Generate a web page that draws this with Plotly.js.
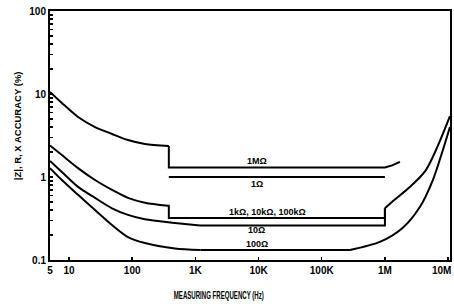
<!DOCTYPE html>
<html><head><meta charset="utf-8">
<script src="https://cdn.plot.ly/plotly-3.0.1.min.js"></script>
<style>html,body{margin:0;padding:0;background:#fff}</style>
</head><body>
<div id="chart" style="width:454px;height:304px"></div>
<script>
// Curve data: measuring frequency (Hz) vs accuracy (%)
// 1 MΩ
const freq1MLow  = [5, 7.7, 13.9, 25.8, 47.9, 85.7, 159, 380];
const acc1MLow   = [10.6, 7.8, 5.28, 4.0, 3.30, 2.79, 2.50, 2.36];
const freq1MHigh = [380, 380, 1e6, 1.3e6, 1.73e6];
const acc1MHigh  = [2.36, 1.30, 1.30, 1.38, 1.52];
// 1 Ω
const freq1ohm = [380, 1e6];
const acc1ohm  = [1.0, 1.0];
// 1k, 10k, 100k Ω
const freq1kLow  = [5, 7.7, 13.9, 25.8, 47.9, 85.7, 159, 370];
const acc1kLow   = [2.4, 1.84, 1.28, 0.92, 0.70, 0.56, 0.49, 0.45];
const freq1kHigh = [370, 380, 380, 1e6, 1e6];
const acc1kHigh  = [0.45, 0.45, 0.32, 0.32, 0.42];
// 10 Ω
const freq10Low  = [5, 7.7, 13.9, 25.8, 47.9, 85.7, 159, 475, 1180];
const acc10Low   = [1.56, 1.15, 0.76, 0.56, 0.42, 0.35, 0.31, 0.28, 0.26];
const freq10High = [1180, 1e6, 1e6];
const acc10High  = [0.26, 0.26, 0.42];
// shared rise above 1 MHz (1k–100kΩ and 10Ω)
const freqRise = [1e6, 1.29e6, 2.3e6, 4.45e6, 1.07e7];
const accRise  = [0.42, 0.50, 0.72, 1.21, 5.4];
// 100 Ω
const freq100Low  = [5, 7.7, 13.9, 25.8, 47.9, 85.7, 159, 475, 1200];
const acc100Low   = [1.28, 0.92, 0.61, 0.40, 0.264, 0.189, 0.160, 0.138, 0.132];
const freq100Flat = [1200, 279000];
const acc100Flat  = [0.132, 0.132];
const freq100High = [279000, 832000, 1.9e6, 3.57e6, 5.74e6, 8.26e6, 1.07e7];
const acc100High  = [0.132, 0.165, 0.243, 0.435, 0.92, 2.11, 4.0];

// Axis ticks
const xTickVals = [5, 10, 100, 1e3, 1e4, 1e5, 1e6, 1e7];
const xTickText = ['5', '10', '100', '1K', '10K', '100K', '1M', '10M'];
const yTickVals = [0.1,0.2,0.3,0.4,0.5,0.6,0.7,0.8,0.9,1,2,3,4,5,6,7,8,9,10,20,30,40,50,60,70,80,90,100];
const yTickText = ['0.1','','','','','','','','','1','','','','','','','','','10','','','','','','','','','100'];

// Curve labels
const labelText = ['1M\u03A9', '1\u03A9', '1k\u03A9, 10k\u03A9, 100k\u03A9', '10\u03A9', '100\u03A9'];
const labelFreq = [9400, 9400, 14000, 9400, 9400];
const labelAcc  = [1.56, 0.824, 0.379, 0.230, 0.156];

const FONT = '"Liberation Sans", Arial, sans-serif';
const line = {color: '#000', width: 2};

const spline = [
  [freq1MLow, acc1MLow], [freq1kLow, acc1kLow], [freq10Low, acc10Low],
  [freq100Low, acc100Low], [freq100High, acc100High], [freqRise, accRise]
];
const linear = [
  [freq1MHigh, acc1MHigh], [freq1ohm, acc1ohm], [freq1kHigh, acc1kHigh],
  [freq10High, acc10High], [freq100Flat, acc100Flat]
];
const traces = [];
spline.forEach(([x, y]) => traces.push({type: 'scatter', mode: 'lines', x: x, y: y,
  line: {color: '#000', width: 2, shape: 'spline', smoothing: 0.8}, hoverinfo: 'skip'}));
linear.forEach(([x, y]) => traces.push({type: 'scatter', mode: 'lines', x: x, y: y,
  line: line, hoverinfo: 'skip'}));

const annotations = labelText.map((t, i) => ({
  x: Math.log10(labelFreq[i]), y: Math.log10(labelAcc[i]), xref: 'x', yref: 'y',
  text: t, showarrow: false, font: {family: FONT, size: 9, color: '#000', weight: 'bold'}
}));
annotations.push({
  xref: 'paper', yref: 'paper', x: 0.4225, y: -0.1406, xanchor: 'center', yanchor: 'middle',
  text: 'MEASURING FREQUENCY (Hz)', showarrow: false,
  font: {family: FONT, size: 10.5, color: '#000', weight: 'bold'}
});
annotations.push({
  xref: 'paper', yref: 'paper', x: -0.082, y: 0.538, xanchor: 'center', yanchor: 'middle',
  text: '|Z|, R, X ACCURACY (%)', textangle: -90, showarrow: false,
  font: {family: FONT, size: 9.5, color: '#000', weight: 'bold'}
});
// last frequency label, kept inside the page at the right edge
const lastTick = xTickText.length - 1;
annotations.push({
  xref: 'paper', yref: 'paper', x: 1.0075, y: -0.041, xanchor: 'right', yanchor: 'middle',
  text: xTickText[lastTick], showarrow: false,
  font: {family: FONT, size: 10, color: '#000', weight: 'bold'}
});
const xTickShown = xTickText.map((t, i) => i === lastTick ? '' : t);

const layout = {
  width: 454, height: 304,
  margin: {l: 50, r: 4, t: 11, b: 44},
  paper_bgcolor: '#fff', plot_bgcolor: '#fff',
  showlegend: false,
  font: {family: FONT, size: 10, color: '#000', weight: 'bold'},
  xaxis: {
    type: 'log', range: [Math.log10(5), 7.03],
    tickvals: xTickVals, ticktext: xTickShown,
    ticks: 'inside', ticklen: 3, tickwidth: 1.5, tickcolor: '#000',
    showline: true, linewidth: 2, linecolor: '#000', mirror: true,
    showgrid: false, zeroline: false,
    tickfont: {family: FONT, size: 10, color: '#000', weight: 'bold'}
  },
  yaxis: {
    type: 'log', range: [-1, 2],
    tickvals: yTickVals, ticktext: yTickText,
    ticks: 'inside', ticklen: 3, tickwidth: 1.5, tickcolor: '#000',
    showline: true, linewidth: 2, linecolor: '#000', mirror: true,
    showgrid: false, zeroline: false,
    ticklabelstandoff: 0,
    tickfont: {family: FONT, size: 10, color: '#000', weight: 'bold'}
  },
  annotations: annotations
};

Plotly.newPlot('chart', traces, layout, {staticPlot: true, displayModeBar: false}).then(() => {
  // condensed lettering of the frequency axis title, as in the original
  document.querySelectorAll('.annotation-text').forEach(el => {
    if (el.textContent === 'MEASURING FREQUENCY (Hz)') {
      el.setAttribute('textLength', '90');
      el.setAttribute('lengthAdjust', 'spacingAndGlyphs');
    }
  });
});
</script>
</body></html>
